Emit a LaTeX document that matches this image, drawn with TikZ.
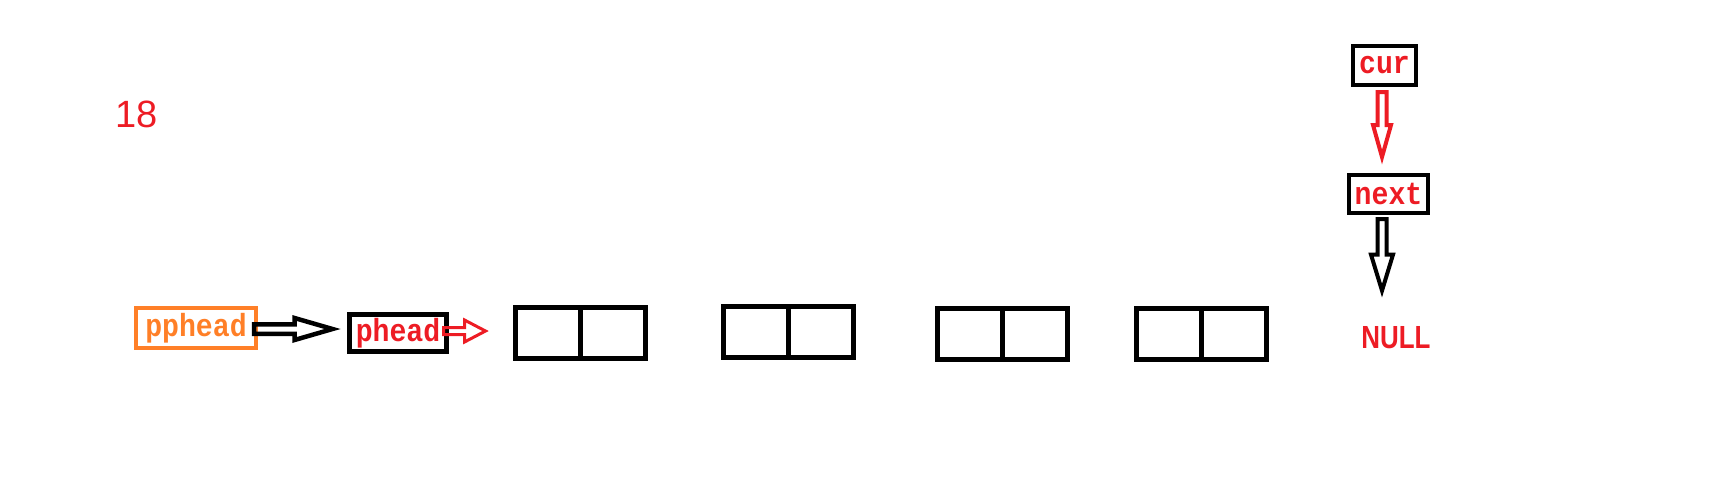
\documentclass[tikz,border=0pt]{standalone}
\usepackage{fontspec}
\setmainfont{Liberation Sans}
\newfontfamily\monolabel[FakeStretch=0.88]{Liberation Mono}
\newfontfamily\narrowsans[FakeStretch=0.81]{Liberation Sans}
\usetikzlibrary{positioning,calc}
\definecolor{paintred}{RGB}{237,28,36}
\definecolor{paintorange}{RGB}{255,127,39}

% hollow block arrow: [style]{start}{end}{shaft half width}{head half width}{head length}
\newcommand{\hollowarrow}[6][]{%
  \coordinate (ha-s) at (#2);
  \coordinate (ha-e) at (#3);
  \coordinate (ha-m) at ($(ha-e)!#6!(ha-s)$);
  \draw[line join=miter,#1] ($(ha-s)!#4!90:(ha-e)$) -- ($(ha-m)!#4!90:(ha-e)$)
    -- ($(ha-m)!#5!90:(ha-e)$) -- (ha-e) -- ($(ha-m)!#5!-90:(ha-e)$)
    -- ($(ha-m)!#4!-90:(ha-e)$) -- ($(ha-s)!#4!-90:(ha-e)$) -- cycle;
}

\tikzset{
  ptrbox/.style={draw=black, line width=4pt, inner sep=0pt, outer sep=0pt,
    text=paintred, font=\monolabel\bfseries\fontsize{32}{32}\selectfont},
  listnode/.style={draw=black, line width=5pt, inner sep=0pt, outer sep=0pt,
    minimum width=130pt, minimum height=51pt},
}

\begin{document}
\begin{tikzpicture}[x=1pt,y=-1pt]
  \useasboundingbox (0,0) rectangle (1728,499);

  \node[text=paintred, font=\fontsize{38}{38}\selectfont] (stepno) at (137,114) {18};

  % pointers and list
  \node[ptrbox, draw=paintorange, text=paintorange,
        minimum width=120pt, minimum height=40pt] (pphead) at (196,328) {pphead};
  \node[ptrbox, line width=5pt, minimum width=97pt, minimum height=37pt]
    (phead) at (398,333) {phead};
  \node[listnode] (n1) at (580.5,333) {};
  \node[listnode] (n2) at (788.5,332) {};
  \node[listnode] (n3) at (1002.5,334) {};
  \node[listnode] (n4) at (1201,334) {};
  \foreach \n in {n1,n2,n3,n4}
    \draw[line width=5pt] (\n.north) -- (\n.south);

  \node[ptrbox, minimum width=63pt, minimum height=39pt] (cur) at (1384.5,65.5) {cur};
  \node[ptrbox, minimum width=79pt, minimum height=38pt] (next) at (1388.5,194) {next};
  \node[text=paintred, inner sep=0pt,
        font=\narrowsans\bfseries\fontsize{32}{32}\selectfont] (null) at (1396,338) {NULL};

  % arrows
  \hollowarrow[line width=4.5pt]{[xshift=-2pt,yshift=-1pt]pphead.east}{[xshift=-17pt,yshift=4pt]phead.west}{4.75pt}{11pt}{38pt}
  \hollowarrow[draw=paintred, line width=3pt]{[xshift=-3pt,yshift=2pt]phead.east}{[xshift=-30pt,yshift=2pt]n1.west}{3.5pt}{11pt}{21pt}
  \hollowarrow[draw=paintred, line width=4pt]{[xshift=-2.5pt,yshift=-7pt]cur.south}{[xshift=-6.5pt,yshift=18pt]next.north}{4.5pt}{9pt}{32pt}
  \hollowarrow[line width=4pt]{[xshift=-6.5pt,yshift=-6pt]next.south}{[xshift=-14pt,yshift=36pt]null.north}{4.5pt}{11pt}{36pt}
\end{tikzpicture}
\end{document}
